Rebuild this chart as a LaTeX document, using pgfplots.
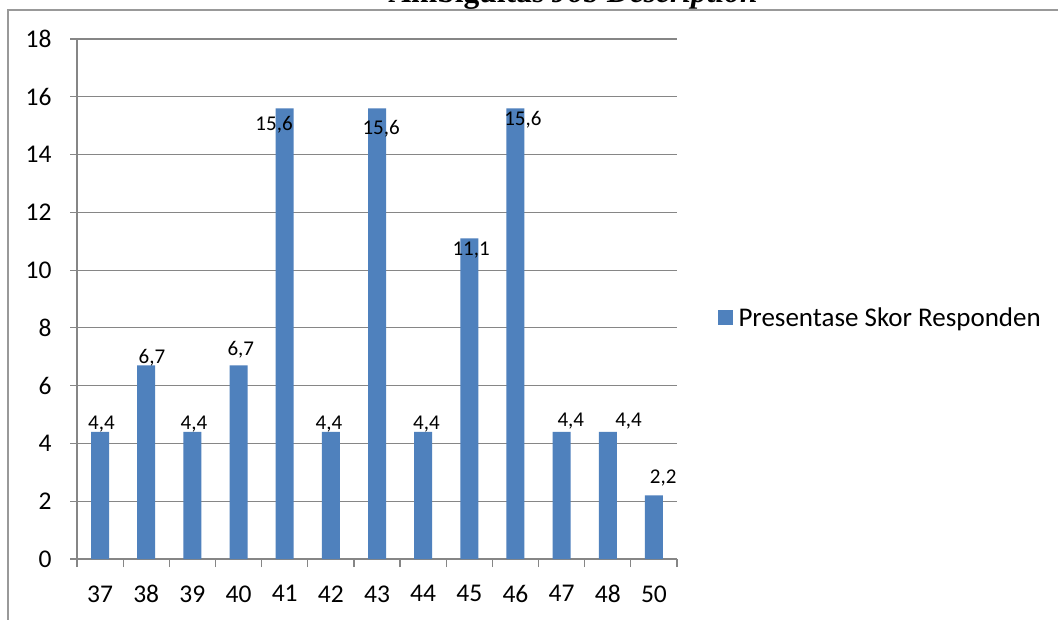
\documentclass[border=0pt]{standalone}
\usepackage{pgfplots}
\pgfplotsset{compat=1.18}
\usepackage{fontspec}
\setmainfont{Carlito}
\newfontfamily\titlefont{Liberation Serif}
\definecolor{barblue}{HTML}{4F81BD}
\definecolor{gridgray}{HTML}{868686}
\definecolor{bordergray}{HTML}{999999}
\begin{document}
\begin{tikzpicture}
\useasboundingbox (0,0) rectangle (1058pt,619pt);
\clip (0,0) rectangle (1058pt,619pt);
\fill[white] (0,0) rectangle (1058pt,619pt);
% chart border
\draw[bordergray, line width=1.2pt] (8pt,-5pt) -- (8pt,609pt) -- (1070pt,609pt);
% title (cut off at top, as in the reference)
\node[anchor=base, inner sep=0pt, font=\titlefont\fontsize{31.5}{36}\selectfont\bfseries] at (573pt,616pt) {Ambiguitas \textit{Job Description}};
\begin{axis}[
  at={(77pt,60pt)}, anchor=south west,
  width=600pt, height=520pt, scale only axis,
  xmin=-0.5, xmax=12.5, ymin=0, ymax=18,
  ytick={0,2,...,18},
  xtick={0,...,12},
  xticklabels={37,38,39,40,41,42,43,44,45,46,47,48,50},
  minor xtick={-0.5,0.5,...,12.5},
  major x tick style={draw=none},
  axis lines=left,
  axis line style={-, draw=gridgray, line width=1.2pt},
  ymajorgrids,
  grid style={draw=gridgray, line width=1.2pt},
  tick style={draw=gridgray, line width=1.2pt},
  tick align=outside,
  major tick length=7pt,
  minor tick length=8pt,
  /pgf/number format/assume math mode=true,
  tick label style={font=\fontsize{25.5}{30}\selectfont},
  yticklabel style={xshift=-15pt},
  xticklabel style={yshift=-16pt},
  legend style={at={(1.068,0.4635)}, anchor=west, draw=none, fill=none,
    font=\fontsize{27}{31}\selectfont, inner sep=0pt,
    nodes={inner sep=5.5pt}},
  legend cell align=left,
  clip=false,
]
\addplot[ybar, bar width=18pt, fill=barblue, draw=none,
  legend image code/.code={\fill[barblue] (0pt,-7.5pt) rectangle (15pt,7.5pt);}]
  coordinates {(0,4.4) (1,6.7) (2,4.4) (3,6.7) (4,15.6) (5,4.4) (6,15.6)
               (7,4.4) (8,11.1) (9,15.6) (10,4.4) (11,4.4) (12,2.2)};
\addlegendentry{Presentase Skor Responden}
\addplot[draw=none, forget plot, nodes near coords, point meta=explicit symbolic,
  every node near coord/.style={anchor=base, inner sep=0pt, font=\fontsize{21}{25}\selectfont}]
  table[meta=label] {
x y label
0.03 4.47 4,4
1.125 6.75 6,7
2.035 4.47 4,4
3.05 7.06 6,7
3.77 14.83 15,6
4.96 4.47 4,4
6.09 14.71 15,6
7.07 4.47 4,4
8.04 10.49 11,1
9.16 14.99 15,6
10.20 4.58 4,4
11.45 4.58 4,4
12.20 2.62 2,2
};
\end{axis}
\end{tikzpicture}
\end{document}
